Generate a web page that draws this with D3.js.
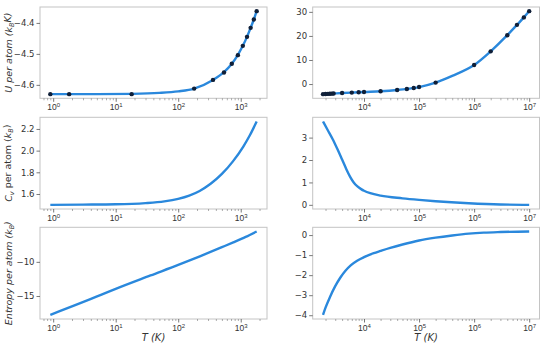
<!DOCTYPE html>
<html>
<head>
<meta charset="utf-8">
<script src="https://cdn.jsdelivr.net/npm/d3@7"></script>
<style>
  html, body { margin: 0; padding: 0; background: #fff; }
  svg { display: block; font-family: "DejaVu Sans", sans-serif; }
</style>
</head>
<body>
<div id="chart"></div>
<script>
// ---- data ----
// left column, low temperature (T in K)
const tUlowPts = [0.9, 1.8, 18, 180, 360, 540, 720, 900, 1080, 1260, 1440, 1620, 1800];
const uLowPts  = [-4.630, -4.630, -4.630, -4.612, -4.584, -4.560, -4.532, -4.504, -4.474, -4.445, -4.416, -4.389, -4.362];
const tUlowFit = [0.9, 5, 18, 50, 100, 180, 360, 540, 720, 900, 1080, 1260, 1440, 1620, 1800];
const uLowFit  = [-4.630, -4.630, -4.629, -4.626, -4.621, -4.612, -4.584, -4.559, -4.532, -4.503, -4.474, -4.445, -4.416, -4.389, -4.362];

const tCvLow = [0.9, 3, 10, 30, 60, 100, 150, 220, 330, 500, 750, 1100, 1400, 1800];
const cvLow  = [1.500, 1.502, 1.505, 1.516, 1.532, 1.555, 1.585, 1.628, 1.694, 1.785, 1.901, 2.038, 2.142, 2.269];

const tSLow = [0.9, 5.8, 10, 36, 100, 222, 500, 760, 1200, 1800];
const sLow  = [-17.76, -14.85, -13.95, -11.99, -10.45, -9.19, -7.85, -7.15, -6.35, -5.55];

// right column, high temperature
const tUhighPts = [1800, 2000, 2200, 2400, 2600, 2800, 4000, 6000, 8000, 1e4, 2e4, 4e4, 6e4, 8e4, 1e5, 2e5, 1e6, 2e6, 4e6, 6e6, 8e6, 1e7];
const uHighPts  = [-4.2, -4.15, -4.1, -4.05, -4.0, -3.95, -3.75, -3.55, -3.4, -3.3, -3.0, -2.45, -2.05, -1.65, -1.25, 0.6, 7.9, 13.6, 20.3, 24.6, 27.7, 30.3];
const tUhighFit = [1800, 2800, 4000, 6000, 1e4, 2e4, 4e4, 1e5, 2e5, 4e5, 1e6, 2e6, 4e6, 6e6, 8e6, 1e7];
const uHighFit  = [-4.2, -3.95, -3.75, -3.55, -3.3, -3.0, -2.45, -1.25, 0.6, 3.4, 7.9, 13.6, 20.3, 24.6, 27.7, 30.3];

const tCvHigh = [1800, 2200, 2700, 3300, 4000, 4800, 5600, 6500, 7600, 9000, 1e4, 13000, 2e4, 5e4, 1e5, 2e5, 8e5, 3e6, 1e7];
const cvHigh  = [3.72, 3.33, 2.93, 2.48, 2.02, 1.58, 1.25, 1.00, 0.82, 0.69, 0.63, 0.52, 0.41, 0.29, 0.22, 0.16, 0.07, 0.015, 0.0];

const tSHigh = [1800, 2000, 2400, 3000, 3700, 4600, 5800, 7500, 1e4, 1.5e4, 2e4, 3e4, 5e4, 1e5, 2e5, 4e5, 8e5, 1.5e6, 3e6, 1e7];
const sHigh  = [-3.98, -3.62, -3.10, -2.55, -2.13, -1.78, -1.50, -1.28, -1.10, -0.90, -0.79, -0.64, -0.47, -0.27, -0.13, -0.02, 0.07, 0.12, 0.15, 0.18];

// ticks
const xTicksLow  = [1, 10, 100, 1000];
const xTicksHigh = [1e4, 1e5, 1e6, 1e7];
const yTicksU1 = [-4.6, -4.5, -4.4];
const yTicksU2 = [0, 10, 20, 30];
const yTicksC1 = [1.6, 1.8, 2.0, 2.2];
const yTicksC2 = [0, 1, 2, 3];
const yTicksS1 = [-15, -10];
const yTicksS2 = [-4, -3, -2, -1, 0];

const zip = (a, b) => a.map((d, i) => [d, b[i]]);

const width = 550, height = 350;
const cols = [[40, 267], [312.7, 539.5]];
const rows = [[7, 98.3], [117.3, 209], [227.3, 319]];
const blue = "#2a88dc";
const textColor = "#333";

const panels = [
  {c: 0, r: 0, line: zip(tUlowFit, uLowFit), pts: zip(tUlowPts, uLowPts), xt: xTicksLow, yt: yTicksU1, fmt: ".1f", lab: "U"},
  {c: 1, r: 0, line: zip(tUhighFit, uHighFit), pts: zip(tUhighPts, uHighPts), xt: xTicksHigh, yt: yTicksU2, fmt: "d"},
  {c: 0, r: 1, line: zip(tCvLow, cvLow), xt: xTicksLow, yt: yTicksC1, fmt: ".1f", lab: "C"},
  {c: 1, r: 1, line: zip(tCvHigh, cvHigh), xt: xTicksHigh, yt: yTicksC2, fmt: "d"},
  {c: 0, r: 2, line: zip(tSLow, sLow), xt: xTicksLow, yt: yTicksS1, fmt: "d", lab: "S"},
  {c: 1, r: 2, line: zip(tSHigh, sHigh), xt: xTicksHigh, yt: yTicksS2, fmt: "d"}
];

// matplotlib-style 5% margins
function padLin(ext) { const m = (ext[1] - ext[0]) * 0.05; return [ext[0] - m, ext[1] + m]; }
function padLog(ext) {
  const a = Math.log10(ext[0]), b = Math.log10(ext[1]), m = (b - a) * 0.05;
  return [Math.pow(10, a - m), Math.pow(10, b + m)];
}
// x domain shared by column
const colX = [
  padLog(d3.extent(tUlowPts.concat(tUlowFit))),
  padLog(d3.extent(tUhighPts.concat(tUhighFit)))
];

function minorTicks(dom) {
  const out = [];
  for (let e = Math.floor(Math.log10(dom[0])); e <= Math.ceil(Math.log10(dom[1])); e++) {
    for (let k = 2; k <= 9; k++) {
      const v = k * Math.pow(10, e);
      if (v >= dom[0] && v <= dom[1]) out.push(v);
    }
  }
  return out;
}

const svg = d3.select("#chart").append("svg")
    .attr("width", width)
    .attr("height", height);

panels.forEach(p => {
  const [x0, x1] = cols[p.c], [y0, y1] = rows[p.r];
  const x = d3.scaleLog().domain(colX[p.c]).range([x0, x1]);
  const allY = p.line.map(d => d[1]).concat(p.pts ? p.pts.map(d => d[1]) : []);
  const y = d3.scaleLinear().domain(padLin(d3.extent(allY))).range([y1, y0]);

  const g = svg.append("g");
  g.append("rect")
      .attr("x", x0).attr("y", y0)
      .attr("width", x1 - x0).attr("height", y1 - y0)
      .attr("fill", "#fff")
      .attr("stroke", "#c4c4c4")
      .attr("stroke-width", 1);

  // minor ticks
  g.append("g")
      .attr("transform", `translate(0,${y1})`)
      .call(d3.axisBottom(x).tickValues(minorTicks(x.domain())).tickSize(2).tickFormat(() => ""))
      .call(a => a.select(".domain").remove())
      .call(a => a.selectAll("line").attr("stroke", "#777").attr("stroke-width", 0.6));

  // major x ticks with 10^n labels
  const xa = g.append("g")
      .attr("transform", `translate(0,${y1})`)
      .call(d3.axisBottom(x).tickValues(p.xt).tickSize(3.5).tickFormat(() => ""))
      .call(a => a.select(".domain").remove())
      .call(a => a.selectAll("line").attr("stroke", "#555").attr("stroke-width", 0.8));
  xa.selectAll(".tick text").remove();
  xa.selectAll(".tick").append("text")
      .attr("y", 11.6)
      .attr("fill", textColor)
      .attr("font-size", 8.5)
      .attr("text-anchor", "middle")
      .each(function(d) {
        const t = d3.select(this);
        t.append("tspan").text("10");
        t.append("tspan").attr("dy", "-0.42em").attr("font-size", 6).text(Math.round(Math.log10(d)));
      });

  // y ticks
  g.append("g")
      .attr("transform", `translate(${x0},0)`)
      .call(d3.axisLeft(y).tickValues(p.yt).tickSize(3.5).tickPadding(2).tickFormat(d3.format(p.fmt)))
      .call(a => a.select(".domain").remove())
      .call(a => a.selectAll("line").attr("stroke", "#555").attr("stroke-width", 0.8))
      .call(a => a.selectAll("text").attr("fill", textColor).attr("font-size", 8.5).attr("font-family", "DejaVu Sans"));

  const clipId = `clip${p.c}${p.r}`;
  g.append("clipPath").attr("id", clipId)
    .append("rect").attr("x", x0).attr("y", y0 - 3).attr("width", x1 - x0).attr("height", y1 - y0 + 6);

  g.append("path")
      .datum(p.line)
      .attr("clip-path", `url(#${clipId})`)
      .attr("fill", "none")
      .attr("stroke", blue)
      .attr("stroke-width", 2.4)
      .attr("d", d3.line().x(d => x(d[0])).y(d => y(d[1])).curve(d3.curveMonotoneX));

  if (p.pts) {
    g.append("g")
      .selectAll("circle")
      .data(p.pts)
      .join("circle")
        .attr("cx", d => x(d[0]))
        .attr("cy", d => y(d[1]))
        .attr("r", 2.2)
        .attr("fill", "#0f1f38");
  }

  // y labels (left column only)
  if (p.lab) {
    const cy = (y0 + y1) / 2;
    const t = g.append("text")
        .attr("transform", `translate(12,${cy}) rotate(-90)`)
        .attr("text-anchor", "middle")
        .attr("font-size", 9.5)
        .attr("fill", textColor);
    if (p.lab === "U") {
      t.attr("font-style", "italic");
      t.append("tspan").text("U per atom (k");
      t.append("tspan").attr("dy", "0.3em").attr("font-size", 6.5).text("B");
      t.append("tspan").attr("dy", "-0.3em").text("K)");
    } else if (p.lab === "C") {
      t.append("tspan").attr("font-style", "italic").text("C");
      t.append("tspan").attr("dy", "0.3em").attr("font-size", 6.5).attr("font-style", "italic").text("v");
      t.append("tspan").attr("dy", "-0.3em").text(" per atom (");
      t.append("tspan").attr("font-style", "italic").text("k");
      t.append("tspan").attr("dy", "0.3em").attr("font-size", 6.5).attr("font-style", "italic").text("B");
      t.append("tspan").attr("dy", "-0.3em").text(")");
    } else {
      t.attr("font-style", "italic");
      t.append("tspan").text("Entropy per atom (k");
      t.append("tspan").attr("dy", "0.3em").attr("font-size", 6.5).text("B");
      t.append("tspan").attr("dy", "-0.3em").text(")");
    }
  }

  // x label on bottom row
  if (p.r === 2) {
    g.append("text")
        .attr("x", (x0 + x1) / 2)
        .attr("y", 341)
        .attr("text-anchor", "middle")
        .attr("font-size", 10)
        .attr("font-style", "italic")
        .attr("fill", textColor)
        .text("T (K)");
  }
});
</script>
</body>
</html>
